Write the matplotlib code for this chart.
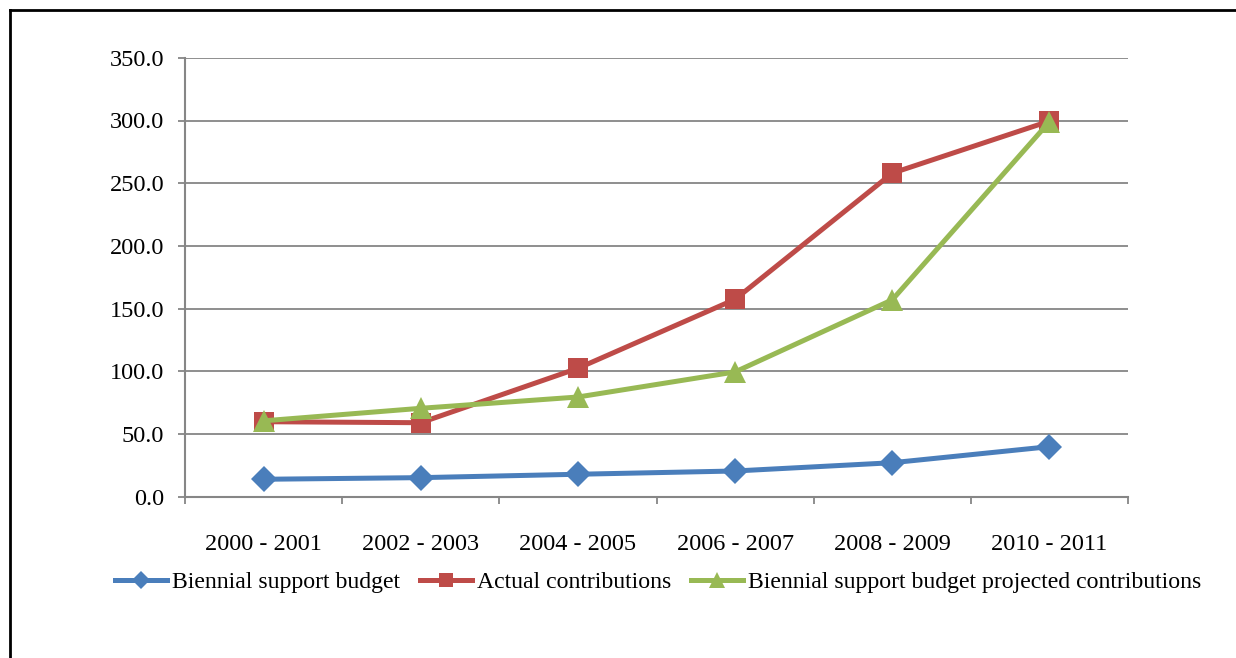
import matplotlib
matplotlib.use("Agg")
import matplotlib.pyplot as plt
from matplotlib.lines import Line2D

periods = ["2000 - 2001", "2002 - 2003", "2004 - 2005", "2006 - 2007", "2008 - 2009", "2010 - 2011"]
biennial_support_budget = [13.9, 15.2, 17.9, 20.5, 27.1, 39.9]
actual_contributions = [59.8, 59.0, 102.4, 157.4, 258.0, 299.5]
projected_contributions = [60.5, 70.5, 79.5, 99.5, 157.0, 299.0]
y_ticks = [0, 50, 100, 150, 200, 250, 300, 350]

series_names = ["Biennial support budget", "Actual contributions",
                "Biennial support budget projected contributions"]
colors = ["#4A7EBB", "#BE4B48", "#98B954"]
markers = ["D", "s", "^"]
msizes = [13, 15, 15.5]

plt.rcParams['font.family'] = ['Liberation Serif', 'DejaVu Serif']
FS = 17.5

fig = plt.figure(figsize=(12.36, 6.58), dpi=100)
ax = fig.add_axes([185/1236, 1 - 496.7/658, (1128-185)/1236, (496.7-57.8)/658])

x = list(range(len(periods)))
for vals, c, m, ms in zip([biennial_support_budget, actual_contributions, projected_contributions],
                          colors, markers, msizes):
    ax.plot(x, vals, color=c, lw=3.6, marker=m, markersize=ms, markeredgewidth=0,
            solid_joinstyle='round', zorder=3, clip_on=False)

ax.set_xlim(-0.5, len(periods) - 0.5)
ax.set_ylim(0, 350)
ax.set_yticks(y_ticks)
ax.set_yticklabels([f"{v:.1f}" for v in y_ticks], fontsize=FS)
ax.set_xticks(x)
ax.set_xticklabels(periods, fontsize=FS)
ax.set_xticks([i - 0.5 for i in range(len(periods) + 1)], minor=True)
ax.tick_params(axis='x', which='major', length=0, pad=27)
ax.tick_params(axis='x', which='minor', length=5, width=1.3, color='#868686')
ax.tick_params(axis='y', which='major', length=5, width=1.3, color='#868686', pad=10)
ax.grid(axis='y', color='#868686', lw=1.3, zorder=0)
for s in ['top', 'right']:
    ax.spines[s].set_visible(False)
for s in ['left', 'bottom']:
    ax.spines[s].set_color('#868686')
    ax.spines[s].set_linewidth(1.5)
ax.set_axisbelow(True)

handles = [Line2D([0], [0], color=c, lw=3.6, marker=m, markersize=ms*0.7, markeredgewidth=0)
           for c, m, ms in zip(colors, markers, msizes)]
fig.legend(handles, series_names, loc='center', bbox_to_anchor=(658/1236, 1 - 582/658),
           ncol=3, frameon=False, fontsize=17.1, handlelength=2.2, handletextpad=0.2,
           columnspacing=0.85, borderpad=0, borderaxespad=0)

# outer frame (left and top edges)
fig.add_artist(Line2D([10/1236, 10/1236], [0, 1 - 10/658], color='black', lw=2, transform=fig.transFigure))
fig.add_artist(Line2D([10/1236, 1], [1 - 10/658, 1 - 10/658], color='black', lw=2, transform=fig.transFigure))

fig.savefig("out.png", dpi=100)
